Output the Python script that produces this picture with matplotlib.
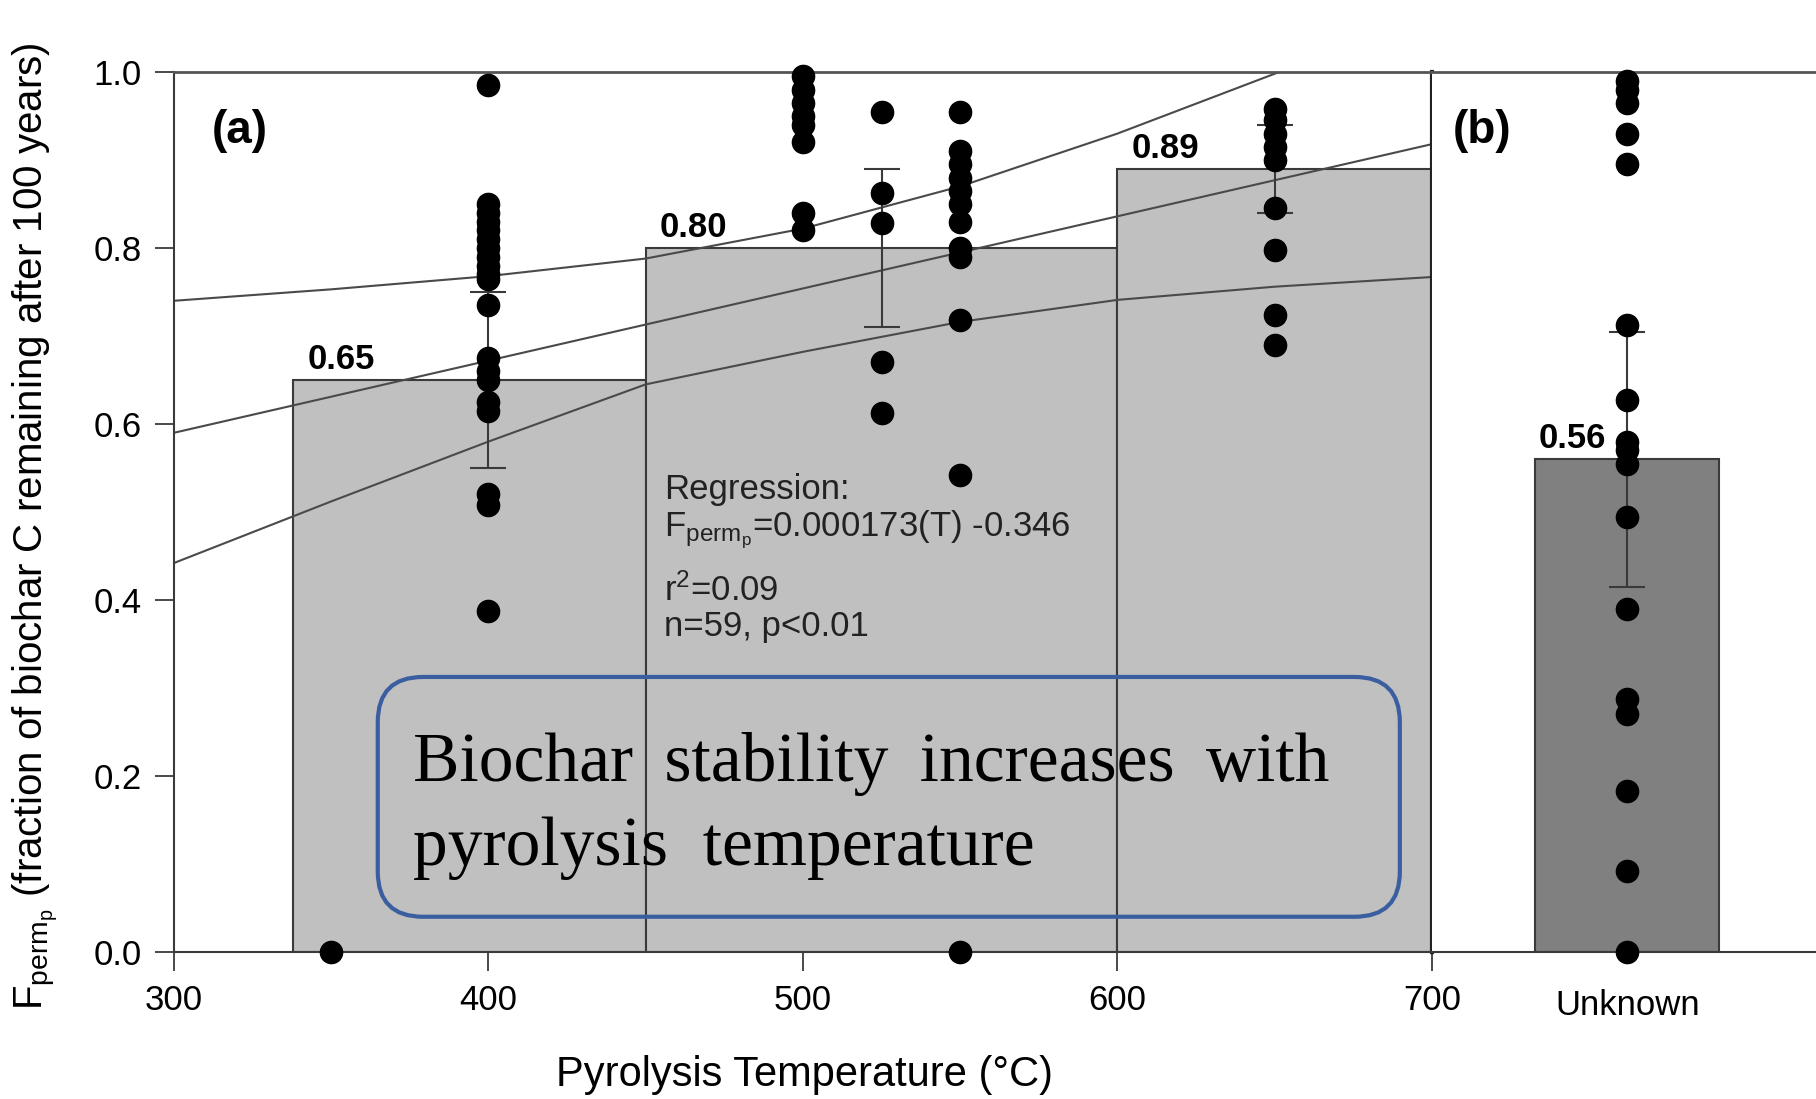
import matplotlib
matplotlib.use('Agg')
import matplotlib.pyplot as plt
from matplotlib.patches import FancyBboxPatch

plt.rcParams['font.family'] = ['Liberation Sans', 'DejaVu Sans']
plt.rcParams['mathtext.default'] = 'regular'

# Bars (a): temperature bins and mean Fperm
bin_left = [338, 450, 600]
bin_right = [450, 600, 700]
bin_mean = [0.65, 0.80, 0.89]
bin_labels = ['0.65', '0.80', '0.89']

# error bars (a)
err_x = [400, 525, 650]
err_size = [0.10, 0.09, 0.05]

# Individual observations (a)
pts_350 = [0.0]
pts_400 = [0.985, 0.85, 0.84, 0.83, 0.82, 0.81, 0.80, 0.79, 0.78, 0.77, 0.765,
           0.735, 0.675, 0.66, 0.65, 0.625, 0.615, 0.52, 0.508, 0.387]
pts_500 = [0.995, 0.98, 0.965, 0.95, 0.94, 0.92, 0.84, 0.82]
pts_525 = [0.955, 0.863, 0.828, 0.67, 0.613]
pts_550 = [0.955, 0.91, 0.895, 0.88, 0.865, 0.85, 0.83, 0.80, 0.79, 0.718, 0.542, 0.0]
pts_650 = [0.958, 0.945, 0.93, 0.915, 0.90, 0.845, 0.798, 0.724, 0.69]
columns = {350: pts_350, 400: pts_400, 500: pts_500, 525: pts_525, 550: pts_550, 650: pts_650}

# Regression line and 95% band
reg_T = [300, 350, 400, 450, 500, 550, 600, 650, 700]
reg_mid = [0.590, 0.631, 0.672, 0.713, 0.754, 0.795, 0.836, 0.877, 0.918]
reg_upper = [0.740, 0.753, 0.768, 0.788, 0.822, 0.870, 0.930, 0.998, 1.068]
reg_lower = [0.442, 0.512, 0.580, 0.645, 0.682, 0.716, 0.741, 0.756, 0.767]

# Panel (b): unknown temperature
unk_cat = ['Unknown']
unk_mean = [0.56]
unk_err = [0.145]
pts_unknown = [0.99, 0.98, 0.965, 0.93, 0.895, 0.712, 0.627, 0.58, 0.57, 0.555,
               0.494, 0.39, 0.287, 0.27, 0.183, 0.092, 0.0]

edge = '#3a3a3a'

fig = plt.figure(figsize=(18.16, 10.99), dpi=100)
ax1 = fig.add_axes([0.0958, 0.1338, 0.6927, 0.8007])
ax2 = fig.add_axes([0.7885, 0.1338, 0.2115, 0.8007])

# ---- panel (a)
widths = [r - l for l, r in zip(bin_left, bin_right)]
ax1.bar(bin_left, bin_mean, width=widths, align='edge', color='#c0c0c0',
        edgecolor=edge, linewidth=1.5, zorder=1)
for l, m, lab in zip(bin_left, bin_mean, bin_labels):
    ax1.annotate(lab, (l, m), xytext=(10, 3), textcoords='offset points',
                 fontsize=25, fontweight='bold', ha='left', va='bottom', zorder=5)

for band in (reg_upper, reg_mid, reg_lower):
    ax1.plot(reg_T, band, color='#4a4a4a', lw=1.5, zorder=2)

ax1.errorbar(err_x, bin_mean, yerr=err_size, fmt='none', ecolor=edge,
             elinewidth=1.5, capsize=13, capthick=1.5, zorder=3)

for t, vals in columns.items():
    ax1.plot([t] * len(vals), vals, 'o', color='black', ms=16, zorder=4, clip_on=False)

ax1.set_xlim(300, 700)
ax1.set_ylim(0, 1.0)
ax1.set_xticks([300, 400, 500, 600, 700])
ax1.set_yticks([0.0, 0.2, 0.4, 0.6, 0.8, 1.0])
ax1.set_yticklabels(['0.0', '0.2', '0.4', '0.6', '0.8', '1.0'])
ax1.tick_params(direction='out', length=14, width=1.3, labelsize=25, pad=9, color=edge)
for s in ('left', 'bottom'):
    ax1.spines[s].set_linewidth(1.5)
    ax1.spines[s].set_color(edge)
ax1.spines['top'].set_color('#555555')
ax1.spines['top'].set_linewidth(2)
ax1.spines['right'].set_color('#222222')
ax1.spines['right'].set_linewidth(3)

ax1.text(312, 0.933, '(a)', fontsize=33, fontweight='bold', va='center', ha='left')

ax1.text(455.7, 0.525, 'Regression:', fontsize=25, va='center', color='#222222')
ax1.text(455.7, 0.480, r'$F_{perm_p}$=0.000173(T) -0.346', fontsize=25, va='center', color='#222222')
ax1.text(455.7, 0.411, r'$r^2$=0.09', fontsize=25, va='center', color='#222222')
ax1.text(455.7, 0.370, 'n=59, p<0.01', fontsize=25, va='center', color='#222222')

box = FancyBboxPatch((0.162, 0.04), 0.8125, 0.2725,
                     boxstyle='round,pad=0,rounding_size=0.036', mutation_aspect=1256 / 880,
                     transform=ax1.transAxes, facecolor='none', edgecolor='#3b5ea0',
                     linewidth=3, zorder=5)
ax1.add_patch(box)
ax1.text(0.19, 0.214, 'Biochar \u2009stability \u2009increases \u2009with', transform=ax1.transAxes,
         family=['Liberation Serif', 'DejaVu Serif'], fontsize=50, va='center', ha='left', zorder=6)
ax1.text(0.19, 0.118, 'pyrolysis  temperature', transform=ax1.transAxes,
         family=['Liberation Serif', 'DejaVu Serif'], fontsize=50, va='center', ha='left', zorder=6)

# ---- panel (b)
ax2.bar(unk_cat, unk_mean, width=0.8, color='#808080', edgecolor=edge,
        linewidth=1.5, zorder=1)
ax2.errorbar(unk_cat, unk_mean, yerr=unk_err, fmt='none', ecolor=edge,
             elinewidth=1.5, capsize=13, capthick=1.5, zorder=3)
ax2.plot([0] * len(pts_unknown), pts_unknown, 'o', color='black', ms=16, zorder=4, clip_on=False)
ax2.annotate('0.56', (-0.4, unk_mean[0]), xytext=(2, 3), textcoords='offset points',
             fontsize=25, fontweight='bold', ha='left', va='bottom', zorder=5)
ax2.set_xlim(-0.85, 0.82)
ax2.set_ylim(0, 1.0)
ax2.set_yticks([])
ax2.tick_params(axis='x', length=0, labelsize=25, pad=27)
ax2.spines['left'].set_visible(False)
ax2.spines['right'].set_visible(False)
ax2.spines['top'].set_color('#555555')
ax2.spines['top'].set_linewidth(2)
ax2.spines['bottom'].set_linewidth(1.5)
ax2.spines['bottom'].set_color(edge)
ax2.text(0.055, 0.933, '(b)', transform=ax2.transAxes, fontsize=33,
         fontweight='bold', va='center', ha='left')

fig.text(804 / 1816, 1 - 1075 / 1099, 'Pyrolysis Temperature (°C)', fontsize=30,
         ha='center', va='center')
fig.text(35 / 1816, 1 - 526 / 1099,
         r'$F_{perm_p}$ (fraction of biochar C remaining after 100 years)',
         fontsize=29, rotation=90, ha='center', va='center')

fig.savefig('out.png', dpi=100)
